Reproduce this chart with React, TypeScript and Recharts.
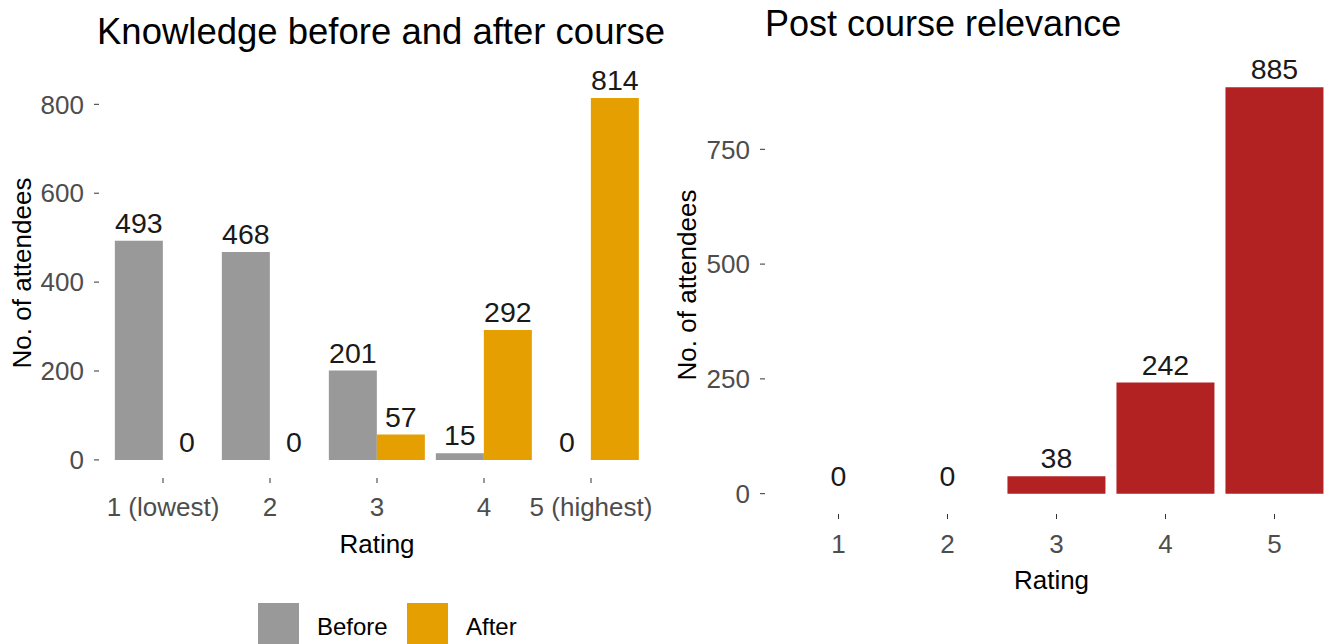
import { BarChart, Bar, XAxis, YAxis, LabelList } from "recharts";

const ratings = ["1 (lowest)", "2", "3", "4", "5 (highest)"];
const beforeCounts = [493, 468, 201, 15, 0];
const afterCounts = [0, 0, 57, 292, 814];

const relevanceRatings = ["1", "2", "3", "4", "5"];
const relevanceCounts = [0, 0, 38, 242, 885];

const knowledgeTicks = [0, 200, 400, 600, 800];
const relevanceTicks = [0, 250, 500, 750];

const FONT = "'Liberation Sans', Arial, sans-serif";
const GREY = "#999999";
const ORANGE = "#E69F00";
const RED = "#B22222";

const tickStyle = { fill: "#4d4d4d", fontSize: 26, fontFamily: FONT };

// value label above each bar (zero bars too, so the 0s show up)
const renderValue = (props: any) => {
  const { x, y, width, value } = props;
  return (
    <text
      x={Number(x) + Number(width) / 2}
      y={Number(y) - 8}
      textAnchor="middle"
      fontSize={28.5}
      fontFamily={FONT}
      fill="#1a1a1a"
    >
      {value}
    </text>
  );
};

const yTitle = (x: number, y: number) => () => (
  <text
    x={x}
    y={y}
    transform={`rotate(-90, ${x}, ${y})`}
    textAnchor="middle"
    dominantBaseline="central"
    fontSize={26}
    fontFamily={FONT}
    fill="#000"
  >
    No. of attendees
  </text>
);

// recharts drops labels on 0-height bars, give them a hairline
const zeroFloor = (value: any) => (Number(value) === 0 ? 0.01 : 0);

const KnowledgeChart = () => {
  const data = ratings.map((rating, i) => ({
    rating,
    before: beforeCounts[i],
    after: afterCounts[i],
  }));

  return (
    <BarChart
      width={665}
      height={644}
      data={data}
      margin={{ top: 80, right: 10, left: 0, bottom: 86 }}
      barCategoryGap="5%"
      barGap={0}
    >
      <XAxis
        dataKey="rating"
        axisLine={false}
        tickLine={{ stroke: "#333" }}
        tickSize={5}
        tickMargin={15}
        tick={tickStyle}
        height={80}
        padding={{ left: 10.5, right: 10.5 }}
        interval={0}
        label={{ value: "Rating", position: "insideBottom", offset: 5, fontSize: 26, fontFamily: FONT, fill: "#000" }}
      />
      <YAxis
        width={99}
        domain={[-40.7, 854.7]}
        ticks={knowledgeTicks}
        axisLine={false}
        tickLine={{ stroke: "#333" }}
        tickSize={5}
        tickMargin={10}
        tick={tickStyle}
        label={{ content: yTitle(22, 273) }}
      />
      <Bar dataKey="before" fill={GREY} minPointSize={zeroFloor} isAnimationActive={false}>
        <LabelList dataKey="before" content={renderValue} />
      </Bar>
      <Bar dataKey="after" fill={ORANGE} minPointSize={zeroFloor} isAnimationActive={false}>
        <LabelList dataKey="after" content={renderValue} />
      </Bar>
    </BarChart>
  );
};

const RelevanceChart = () => {
  const data = relevanceRatings.map((rating, i) => ({
    rating,
    count: relevanceCounts[i],
  }));

  return (
    <BarChart
      width={680}
      height={644}
      data={data}
      margin={{ top: 67, right: 12, left: 0, bottom: 50 }}
      barCategoryGap="5%"
    >
      <XAxis
        dataKey="rating"
        axisLine={false}
        tickLine={{ stroke: "#333" }}
        tickSize={5}
        tickMargin={16}
        tick={tickStyle}
        height={80}
        padding={{ left: 19, right: 9 }}
        interval={0}
        label={{ value: "Rating", position: "insideBottom", offset: 5, fontSize: 26, fontFamily: FONT, fill: "#000" }}
      />
      <YAxis
        width={95}
        domain={[-44.25, 929.25]}
        ticks={relevanceTicks}
        axisLine={false}
        tickLine={{ stroke: "#333" }}
        tickSize={5}
        tickMargin={10}
        tick={tickStyle}
        label={{ content: yTitle(17, 285) }}
      />
      <Bar dataKey="count" fill={RED} minPointSize={zeroFloor} isAnimationActive={false}>
        <LabelList dataKey="count" content={renderValue} />
      </Bar>
    </BarChart>
  );
};

const legendItems = [
  { name: "Before", color: GREY, left: 258 },
  { name: "After", color: ORANGE, left: 407 },
];

const App = () => (
  <div
    style={{
      position: "absolute",
      left: 0,
      top: 0,
      width: 1326,
      height: 644,
      overflow: "hidden",
      background: "#fff",
      fontFamily: FONT,
    }}
  >
    <div style={{ position: "absolute", left: 0, top: 0 }}>
      <KnowledgeChart />
    </div>
    <div style={{ position: "absolute", left: 670, top: 0 }}>
      <RelevanceChart />
    </div>
    <div style={{ position: "absolute", left: 97, top: 14, fontSize: 36.5, lineHeight: "36px", color: "#000", whiteSpace: "nowrap" }}>
      Knowledge before and after course
    </div>
    <div style={{ position: "absolute", left: 765, top: 6, fontSize: 36, lineHeight: "36px", color: "#000", whiteSpace: "nowrap" }}>
      Post course relevance
    </div>
    {legendItems.map((item) => (
      <div key={item.name}>
        <div
          style={{ position: "absolute", left: item.left, top: 603, width: 41, height: 46, background: item.color }}
        />
        <div
          style={{ position: "absolute", left: item.left + 59, top: 614, fontSize: 24, lineHeight: "26px", color: "#000" }}
        >
          {item.name}
        </div>
      </div>
    ))}
  </div>
);

export default App;
